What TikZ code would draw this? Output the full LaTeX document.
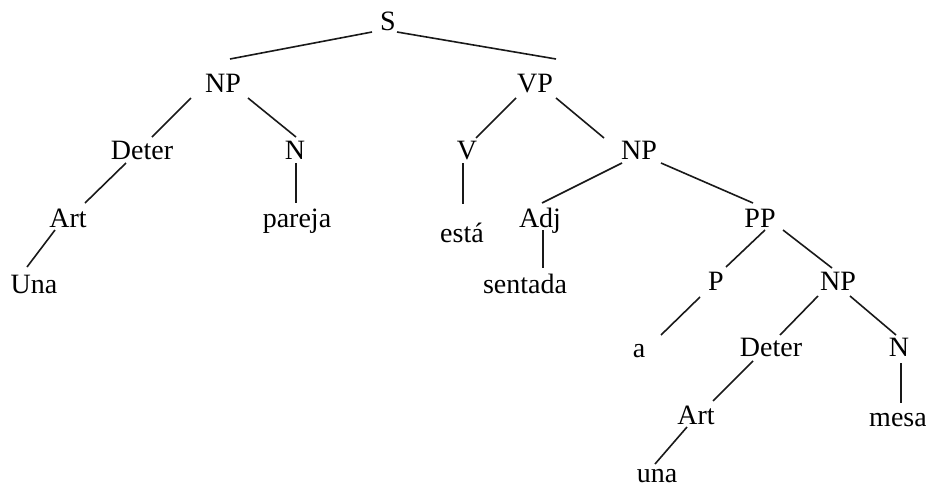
\documentclass[tikz,border=0pt]{standalone}
\usepackage{fontspec}
\setmainfont{Liberation Serif}
\newfontfamily\lserif{Liberation Serif}
\begin{document}
\begin{tikzpicture}[x=1pt,y=-1pt,
  tn/.style={font=\lserif\fontsize{28}{34}\selectfont, text=black, inner sep=0pt, anchor=base},
  br/.style={line width=1.6pt, draw=black!90}]
\useasboundingbox (0,0) rectangle (926,488);
\node[tn] (S) at (388,30) {S};
\node[tn] (NPa) at (223,92) {NP};
\node[tn] (VP) at (535,92) {VP};
\node[tn] (Deta) at (142,159) {Deter};
\node[tn] (Na) at (295,159) {N};
\node[tn] (V) at (467,159) {V};
\node[tn] (NPb) at (639,159) {NP};
\node[tn] (Arta) at (68,227) {Art};
\node[tn] (pareja) at (297,227) {pareja};
\node[tn] (esta) at (462,242) {está};
\node[tn] (Adj) at (540,227) {Adj};
\node[tn] (PP) at (760,227) {PP};
\node[tn] (Una) at (34,293) {Una};
\node[tn] (sentada) at (525,293) {sentada};
\node[tn] (P) at (716,290) {P};
\node[tn] (NPc) at (838,290) {NP};
\node[tn] (a) at (639,357) {a};
\node[tn] (Detb) at (771,356) {Deter};
\node[tn] (Nb) at (899,356) {N};
\node[tn] (Artb) at (696,424) {Art};
\node[tn] (mesa) at (898,426) {mesa};
\node[tn] (una) at (657,482) {una};

\draw[br] ([shift={(-16,2)}]S.base) -- ([shift={(7,-33)}]NPa.base);
\draw[br] ([shift={(9,2)}]S.base) -- ([shift={(21,-33)}]VP.base);
\draw[br] ([shift={(-32,6)}]NPa.base) -- ([shift={(10,-22)}]Deta.base);
\draw[br] ([shift={(25,6)}]NPa.base) -- ([shift={(1,-22)}]Na.base);
\draw[br] ([shift={(-16,4)}]Deta.base) -- ([shift={(17,-24)}]Arta.base);
\draw[br] ([shift={(1,4)}]Na.base) -- ([shift={(-1,-24)}]pareja.base);
\draw[br] ([shift={(-13,3)}]Arta.base) -- ([shift={(-7,-26)}]Una.base);
\draw[br] ([shift={(-19,6)}]VP.base) -- ([shift={(9,-21)}]V.base);
\draw[br] ([shift={(21,6)}]VP.base) -- ([shift={(-35,-21)}]NPb.base);
\draw[br] ([shift={(-4,4)}]V.base) -- ([shift={(1,-38)}]esta.base);
\draw[br] ([shift={(-17,4)}]NPb.base) -- ([shift={(2,-24)}]Adj.base);
\draw[br] ([shift={(22,4)}]NPb.base) -- ([shift={(-7,-24)}]PP.base);
\draw[br] ([shift={(3,3)}]Adj.base) -- ([shift={(18,-25)}]sentada.base);
\draw[br] ([shift={(5,3)}]PP.base) -- ([shift={(10,-23)}]P.base);
\draw[br] ([shift={(23,3)}]PP.base) -- ([shift={(-6,-22)}]NPc.base);
\draw[br] ([shift={(-16,7)}]P.base) -- ([shift={(22,-22)}]a.base);
\draw[br] ([shift={(-20,6)}]NPc.base) -- ([shift={(9,-21)}]Detb.base);
\draw[br] ([shift={(12,6)}]NPc.base) -- ([shift={(-3,-21)}]Nb.base);
\draw[br] ([shift={(-18,5)}]Detb.base) -- ([shift={(17,-23)}]Artb.base);
\draw[br] ([shift={(2,7)}]Nb.base) -- ([shift={(3,-23)}]mesa.base);
\draw[br] ([shift={(-9,3)}]Artb.base) -- ([shift={(-2,-18)}]una.base);
\end{tikzpicture}
\end{document}
